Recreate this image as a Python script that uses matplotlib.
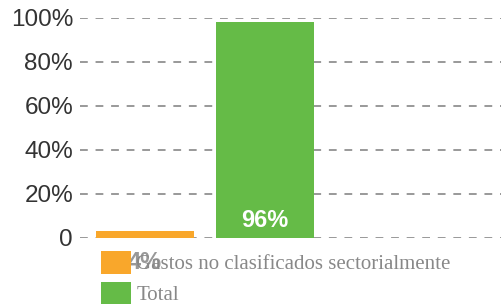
import matplotlib
matplotlib.use('Agg')
import matplotlib.pyplot as plt
from matplotlib.patches import Patch

categories = ['Gastos no clasificados sectorialmente', 'Total']
values = [3.2, 98.0]          # bar heights as drawn (% of total)
value_labels = ['4%', '96%']
colors = ['#F9A72B', '#65BB47']
yticks = [0, 20, 40, 60, 80, 100]
ytick_labels = ['0', '20%', '40%', '60%', '80%', '100%']

fig = plt.figure(figsize=(5.01, 3.08), dpi=100)
ax = fig.add_axes([80 / 501, 70 / 308, 421 / 501, 220 / 308])

x = list(range(len(categories)))
bars = ax.bar(x, values, width=98 / 120, color=colors, zorder=2)

ax.set_xlim(-65 / 120, 356 / 120)
ax.set_ylim(0, 100)
ax.set_yticks(yticks)
ax.set_yticklabels(ytick_labels, fontfamily='Liberation Sans', fontsize=17.5, color='#333333')
ax.set_xticks([])
ax.tick_params(axis='y', length=0, pad=5)
for s in ax.spines.values():
    s.set_visible(False)
ax.yaxis.grid(True, color='#999999', linewidth=1.4, linestyle=(0, (4, 4)), zorder=1)
ax.set_axisbelow(True)

# value labels: inside the big bar, below the small one
ax.text(x[1], 8.0, value_labels[1], ha='center', va='center', color='white',
        fontsize=17, fontweight='bold', fontfamily='Liberation Sans', zorder=3)
ax.text(x[0], -11.3, value_labels[0], ha='center', va='center', color='#999999',
        fontsize=17, fontweight='bold', fontfamily='Liberation Sans', zorder=3, clip_on=False)

handles = [Patch(facecolor=c, edgecolor='none') for c in colors]
leg = fig.legend(handles, categories, loc='upper left', bbox_to_anchor=(101 / 501, 1 - 251 / 308),
                 frameon=False, borderaxespad=0, borderpad=0,
                 prop={'family': 'Liberation Serif', 'size': 15},
                 handlelength=1.45, handleheight=1.3, handletextpad=0.25, labelspacing=0.35)
for t in leg.get_texts():
    t.set_color('#888888')

fig.savefig('out.png', dpi=100)
